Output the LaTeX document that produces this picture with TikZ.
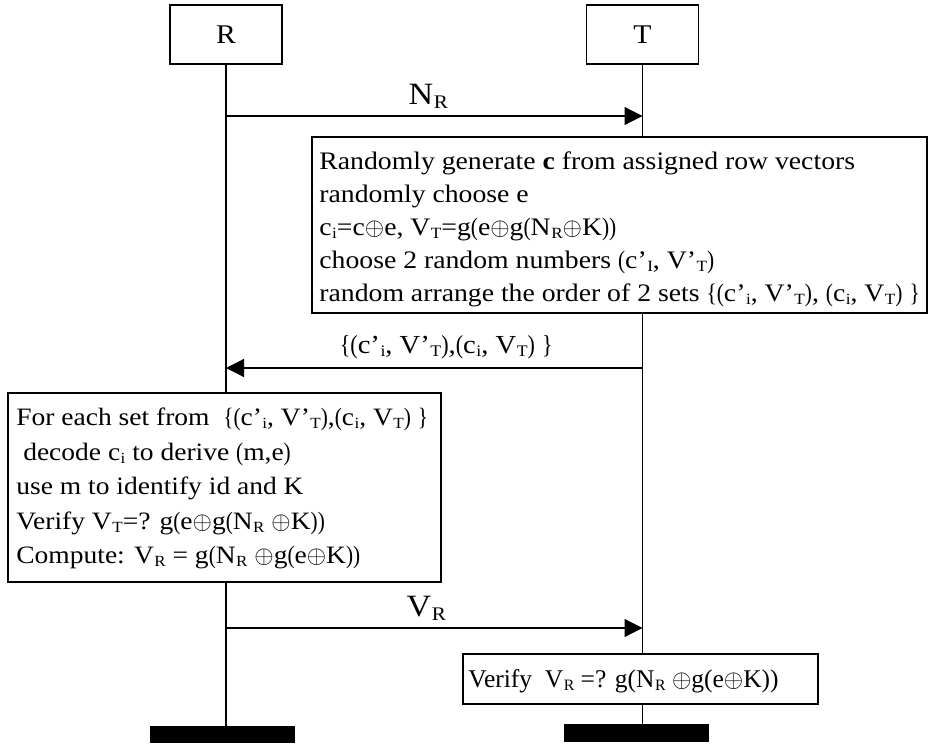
\documentclass[tikz,border=0pt]{standalone}
\usepackage{fontspec}
\setmainfont{Liberation Serif}[FakeStretch=1.1]
\newfontfamily\narrowf{Liberation Serif}[FakeStretch=0.85]
\newfontfamily\plainf{Liberation Serif}
\usetikzlibrary{arrows.meta,backgrounds}
% small subscript set close to the letter
\newcommand{\sbs}[1]{\kern0.02em\raisebox{-0.12em}{\scalebox{0.62}{#1}}}
\newcommand{\xo}{\ensuremath{\oplus}}
% narrow brackets
\newcommand{\lp}{{\narrowf(}}
\newcommand{\rp}{{\narrowf)}}
\newcommand{\lb}{{\narrowf\{}}
\newcommand{\rb}{{\narrowf\}}}
\begin{document}
\begin{tikzpicture}[x=1pt,y=-1pt,
  actor/.style={draw, line width=1.4pt, fill=white, minimum width=112pt,
    minimum height=59pt, inner sep=0pt, font=\fontsize{27}{30}\selectfont},
  procbox/.style={draw, line width=1.6pt, fill=white, inner sep=0pt},
  boxtext/.style={anchor=west, inner sep=0pt, align=left},
  msg/.style={line width=1.2pt, -{Triangle[length=18pt,width=18pt]}},
  msglabel/.style={font=\fontsize{26}{30}\selectfont, inner sep=0pt},
  biglabel/.style={font=\fontsize{31}{36}\selectfont, inner sep=0pt},
  life/.style={line width=1.2pt},
  endbar/.style={fill=black, inner sep=0pt}
]
\useasboundingbox (0,0) rectangle (930,747);

% participants
\node[actor] (R) at (226,34.5) {R};
\node[actor] (T) at (642.5,34.5) {T};

% end markers of the lifelines
\node[endbar, minimum width=145pt, minimum height=17pt] (barR) at (222.5,734.5) {};
\node[endbar, minimum width=145pt, minimum height=18pt] (barT) at (636.5,733) {};

% tag side: build the reply
\node[procbox, minimum width=615pt, minimum height=176pt] (gen) at (619.5,225) {};
\node[boxtext, font=\fontsize{25.2}{33}\selectfont] (gentxt) at ([xshift=8pt,yshift=-4pt]gen.west) {%
Randomly generate \textbf{c} from assigned row vectors\\
randomly choose e\\
c\sbs{i}=c\xo e, V\sbs{T}=g\lp e\xo g\lp N\sbs{R}\xo K\rp\rp\\
choose 2 random numbers \lp c’\sbs{I}, V’\sbs{T}\rp\\
random arrange the order of 2 sets \lb\lp c’\sbs{i}, V’\sbs{T}\rp, \lp c\sbs{i}, V\sbs{T}\rp\ \rb};

% reader side: check both sets
\node[procbox, minimum width=433pt, minimum height=189pt] (chk) at (224.5,487.5) {};
\node[boxtext, font=\fontsize{25}{34.5}\selectfont] (chktxt) at ([xshift=9pt,yshift=-1pt]chk.west) {%
For each set from \ \lb\lp c’\sbs{i}, V’\sbs{T}\rp,\lp c\sbs{i}, V\sbs{T}\rp\ \rb\\
\ decode c\sbs{i} to derive \lp m,e\rp\\
use m to identify id and K\\
Verify V\sbs{T}=? g\lp e\xo g\lp N\sbs{R} \xo K\rp\rp\\
Compute: V\sbs{R} = g\lp N\sbs{R} \xo g\lp e\xo K\rp\rp};

% tag side: final check
\node[procbox, minimum width=355pt, minimum height=50pt] (fin) at (640.5,679) {};
\node[boxtext, font=\fontsize{25.5}{30}\selectfont] (fintxt) at ([xshift=6pt,yshift=-2pt]fin.west) {%
{\plainf Verify \ V\sbs{R} =? g(N\sbs{R} \xo g(e\xo K))}};

% lifelines behind the boxes
\begin{scope}[on background layer]
  \draw[life] (R.south) -- (R.south |- barR.north);
  \draw[life] (T.south) -- (T.south |- barT.north);
\end{scope}

% messages
\coordinate (m1a) at (R.south |- 0,116);
\coordinate (m1b) at (T.south |- 0,116);
\draw[msg] (m1a) -- node[biglabel, above=7pt, xshift=-6pt] {N\sbs{R}} (m1b);

\coordinate (m2a) at (T.south |- 0,368);
\coordinate (m2b) at (R.south |- 0,368);
\draw[msg] (m2a) -- node[msglabel, above=8pt, xshift=12pt] {\lb\lp c’\sbs{i}, V’\sbs{T}\rp,\lp c\sbs{i}, V\sbs{T}\rp\ \rb} (m2b);

\coordinate (m3a) at (R.south |- 0,628);
\coordinate (m3b) at (T.south |- 0,628);
\draw[msg] (m3a) -- node[biglabel, above=7pt, xshift=-8pt] {V\sbs{R}} (m3b);
\end{tikzpicture}
\end{document}
